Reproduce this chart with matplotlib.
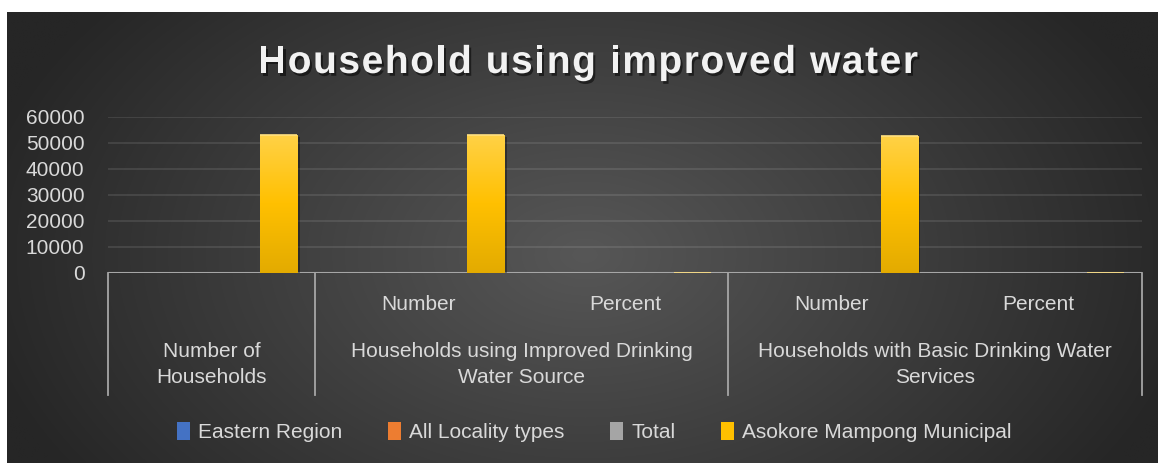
import numpy as np
import matplotlib
matplotlib.use("Agg")
import matplotlib.pyplot as plt
from matplotlib.patches import Rectangle
from matplotlib.colors import LinearSegmentedColormap, to_rgb
import matplotlib.patheffects as pe

plt.rcParams['font.family'] = ['Liberation Sans', 'DejaVu Sans']

# ---------------- data ----------------
title = "Household using improved water"
group_labels = ["Number of\nHouseholds",
                "Households using Improved Drinking\nWater Source",
                "Households with Basic Drinking Water\nServices"]
group_spans = [1, 2, 2]
sub_labels = ["", "Number", "Percent", "Number", "Percent"]
series_names = ["Eastern Region", "All Locality types", "Total",
                "Asokore Mampong Municipal"]
eastern_region = [0, 0, 0, 0, 0]
all_locality_types = [0, 0, 0, 0, 0]
total = [0, 0, 0, 0, 0]
asokore_mampong = [53200, 53200, 99.6, 52800, 99.0]
series_values = [eastern_region, all_locality_types, total, asokore_mampong]
series_colors = ["#4472C4", "#ED7D31", "#A5A5A5", "#FFC000"]
y_ticks = [0, 10000, 20000, 30000, 40000, 50000, 60000]

# ---------------- figure ----------------
W, H = 1160, 463
fig = plt.figure(figsize=(W / 100, H / 100), dpi=100, facecolor="white")

# background panel with radial gradient
bg = fig.add_axes([0, 0, 1, 1])
bg.set_xlim(0, W)
bg.set_ylim(H, 0)
bg.axis("off")
px0, px1, py0, py1 = 7, 1158, 12, 463
xs = np.linspace(px0, px1, 600)
ys = np.linspace(py0, py1, 240)
X, Y = np.meshgrid(xs, ys)
cx, cy, rx, ry = 585, 255, 620, 400
d = np.clip(np.sqrt(((X - cx) / rx) ** 2 + ((Y - cy) / ry) ** 2), 0, 1)
c_in = np.array(to_rgb("#575757"))
c_out = np.array(to_rgb("#262626"))
img = c_in[None, None, :] * (1 - d[..., None]) + c_out[None, None, :] * d[..., None]
bg.imshow(img, extent=(px0, px1, py1, py0), origin="upper", aspect="auto",
          interpolation="bilinear", zorder=0)

# main axes
ax = fig.add_axes([108 / W, (H - 273) / H, 1034 / W, 156 / H])
ax.patch.set_alpha(0)
for s in ax.spines.values():
    s.set_visible(False)

x = np.arange(len(sub_labels))
n = len(series_names)
bw = 0.179
step = 0.217


def shade(c, f):
    r = np.array(to_rgb(c))
    return tuple(r * f)


def tint(c, f):
    r = np.array(to_rgb(c))
    return tuple(r + (1 - r) * f)


for i, (vals, col) in enumerate(zip(series_values, series_colors)):
    xpos = x + (i - (n - 1) / 2) * step
    bars = ax.bar(xpos, vals, width=bw, color=col, zorder=3, linewidth=0)
    cmap = LinearSegmentedColormap.from_list(
        "g", [shade(col, 0.89), col, tint(col, 0.28)])
    grad = np.linspace(0, 1, 256).reshape(-1, 1)
    for b, v in zip(bars, vals):
        if v <= 0:
            continue
        bx, bwid, bh = b.get_x(), b.get_width(), b.get_height()
        if bh > 1000:
            b.set_path_effects([pe.SimplePatchShadow(offset=(2, -1.5),
                                                     shadow_rgbFace="black",
                                                     alpha=0.35), pe.Normal()])
            im = ax.imshow(grad, extent=(bx, bx + bwid, 0, bh), origin="lower",
                           aspect="auto", cmap=cmap, zorder=4)
            im.set_clip_path(b)
        ax.plot([bx, bx + bwid], [bh, bh], color=tint(col, 0.5), lw=1.2,
                zorder=5, solid_capstyle="butt")

ax.set_xlim(-0.5, len(sub_labels) - 0.5)
ax.set_ylim(0, 60000)
ax.set_yticks(y_ticks)
ax.set_yticklabels([str(t) for t in y_ticks])
ax.set_xticks([])
ax.tick_params(axis="y", length=0, pad=17, labelcolor="#D9D9D9", labelsize=15)
ax.yaxis.grid(True, color="white", alpha=0.13, lw=1.1)
ax.set_axisbelow(True)

# category axis
axis_col = "#A6A6A6"
ax.axhline(0, color=axis_col, lw=1.5, zorder=2)
trans = ax.get_xaxis_transform()
bounds = np.concatenate([[0], np.cumsum(group_spans)]) - 0.5
for bpos in bounds:
    ax.plot([bpos, bpos], [0, -0.782], color=axis_col, lw=1.3,
            transform=trans, clip_on=False, zorder=2)
for xi, lab in zip(x, sub_labels):
    if lab:
        ax.text(xi, -0.199, lab, transform=trans, ha="center", va="center",
                fontsize=15, color="#D9D9D9")
for k, lab in enumerate(group_labels):
    gc = (bounds[k] + bounds[k + 1]) / 2
    ax.text(gc, -0.585, lab, transform=trans, ha="center", va="center",
            multialignment="center", fontsize=15, color="#D9D9D9",
            linespacing=1.5)

# title with letter spacing
renderer = fig.canvas.get_renderer()
t_kw = dict(fontsize=28, fontweight="bold", color="#F2F2F2", va="baseline",
            ha="left")
target_w = 660.0
tmp = fig.text(0, 0, title, **t_kw)
nat_w = tmp.get_window_extent(renderer).width
tmp.remove()
extra = (target_w - nat_w) / (len(title) - 1)
x_start = 588 - target_w / 2
base_y = (H - 73) / H
shadow = [pe.withSimplePatchShadow(offset=(1.5, -2), shadow_rgbFace="black",
                                   alpha=0.5)]
for k, ch in enumerate(title):
    if ch == " ":
        continue
    t1 = fig.text(0, 0, title[:k + 1], **t_kw)
    w_pref = t1.get_window_extent(renderer).width
    t1.remove()
    t2 = fig.text(0, 0, ch, **t_kw)
    w_ch = t2.get_window_extent(renderer).width
    t2.remove()
    left = x_start + (w_pref - w_ch) + k * extra
    fig.text(left / W, base_y, ch, path_effects=shadow, **t_kw)

# legend
handles = [Rectangle((0, 0), 1, 1, facecolor=c, edgecolor="none")
           for c in series_colors]
fig.legend(handles, series_names, loc="center",
           bbox_to_anchor=(594.5 / W, (H - 432) / H), ncol=4, frameon=False,
           fontsize=15, labelcolor="#D9D9D9", handlelength=0.6,
           handleheight=1.0, handletextpad=0.4, columnspacing=2.2)

fig.savefig("out.png", dpi=100, facecolor="white")
